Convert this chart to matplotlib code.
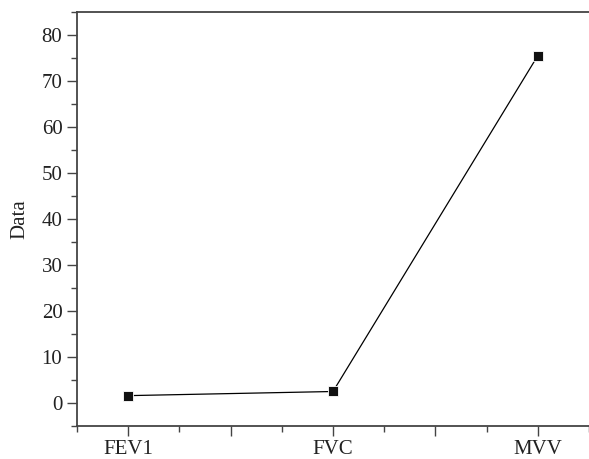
import matplotlib
matplotlib.use("Agg")
import matplotlib.pyplot as plt
from matplotlib.ticker import MultipleLocator, FuncFormatter

categories = ["FEV1", "FVC", "MVV"]
values = [1.6, 2.5, 75.5]

plt.rcParams['font.family'] = ['Liberation Serif', 'DejaVu Serif']

fig = plt.figure(figsize=(5.89, 4.59), dpi=100)
ax = fig.add_axes([0.1307, 0.0719, 0.8693, 0.902])

xs = list(range(1, len(categories) + 1))
ax.plot(xs, values, color="black", lw=0.9, marker="s", markersize=7,
        markerfacecolor="#111111", markeredgecolor="white", markeredgewidth=0.6)

ax.set_xlim(0.75, 3.25)
ax.set_ylim(-5, 85)

ax.xaxis.set_major_locator(MultipleLocator(0.5))
ax.xaxis.set_minor_locator(MultipleLocator(0.25))
ax.xaxis.set_major_formatter(FuncFormatter(
    lambda v, p: categories[int(round(v)) - 1] if abs(v - round(v)) < 1e-6 and 1 <= round(v) <= len(categories) else ""))

ax.yaxis.set_major_locator(MultipleLocator(10))
ax.yaxis.set_minor_locator(MultipleLocator(5))

ax.tick_params(which="major", direction="out", length=7, width=1, colors="#444444",
               labelcolor="#222222", labelsize=15, right=False, top=False)
ax.tick_params(which="minor", direction="out", length=4, width=1, colors="#444444",
               right=False, top=False)
ax.tick_params(axis="x", pad=3)

for s in ["left", "bottom", "top"]:
    ax.spines[s].set_color("#444444")
    ax.spines[s].set_linewidth(1.3)
ax.spines["right"].set_visible(False)

ax.set_ylabel("Data", fontsize=15, color="#222222", labelpad=9)

fig.savefig("out.png", dpi=100)
